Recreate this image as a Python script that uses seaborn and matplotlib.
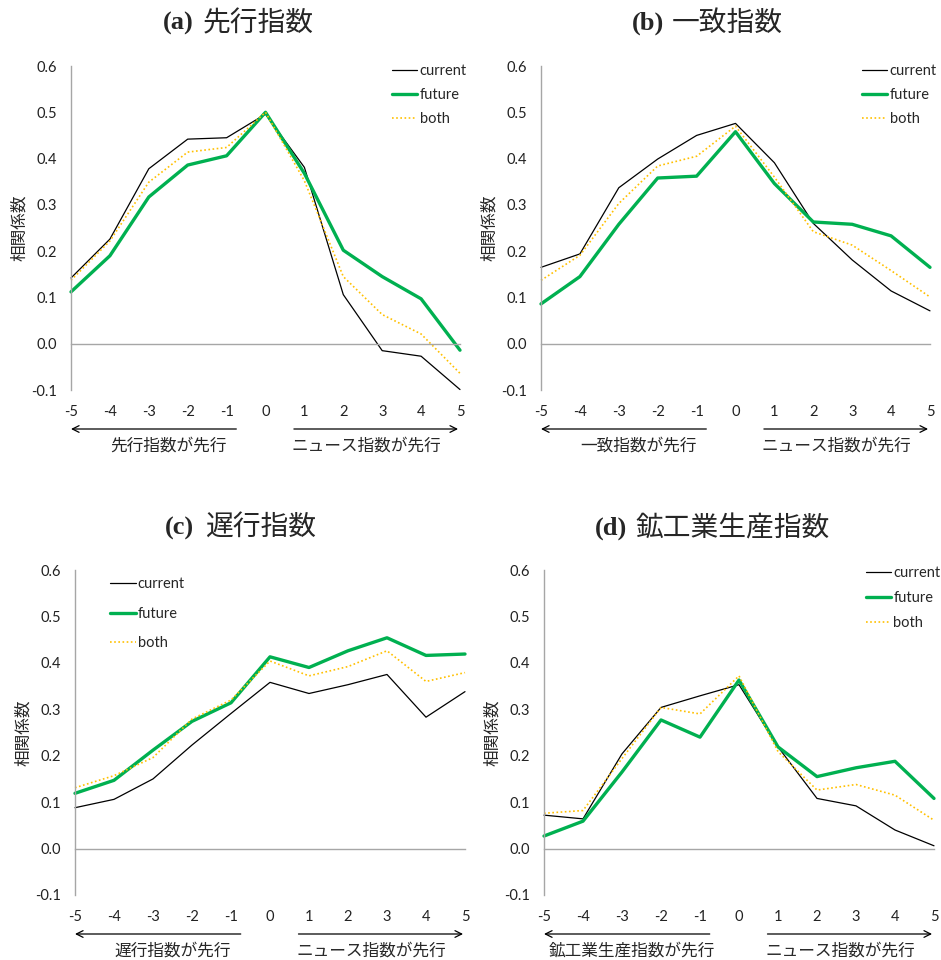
import numpy as np
import pandas as pd
import matplotlib
matplotlib.use("Agg")
import matplotlib.pyplot as plt
import matplotlib.transforms as mtransforms
import seaborn as sns

lags = [-5, -4, -3, -2, -1, 0, 1, 2, 3, 4, 5]
yticks = [-0.1, 0.0, 0.1, 0.2, 0.3, 0.4, 0.5, 0.6]

titles = ["先行指数", "一致指数", "遅行指数", "鉱工業生産指数"]
letters = ["(a)", "(b)", "(c)", "(d)"]
left_notes = ["先行指数が先行", "一致指数が先行", "遅行指数が先行", "鉱工業生産指数が先行"]
right_note = "ニュース指数が先行"
ylabel = "相関係数"

a_current = [0.142, 0.226, 0.378, 0.442, 0.445, 0.496, 0.381, 0.106, -0.015, -0.027, -0.099]
a_future = [0.112, 0.190, 0.317, 0.386, 0.406, 0.500, 0.368, 0.202, 0.145, 0.097, -0.014]
a_both = [0.137, 0.222, 0.349, 0.414, 0.424, 0.500, 0.352, 0.145, 0.063, 0.021, -0.064]

b_current = [0.165, 0.194, 0.337, 0.399, 0.450, 0.476, 0.391, 0.260, 0.181, 0.114, 0.071]
b_future = [0.086, 0.145, 0.258, 0.358, 0.362, 0.458, 0.346, 0.263, 0.258, 0.233, 0.165]
b_both = [0.137, 0.191, 0.303, 0.384, 0.405, 0.470, 0.360, 0.242, 0.213, 0.158, 0.101]

c_current = [0.088, 0.106, 0.150, 0.223, 0.291, 0.358, 0.334, 0.353, 0.375, 0.283, 0.338]
c_future = [0.119, 0.147, 0.212, 0.274, 0.314, 0.413, 0.390, 0.426, 0.454, 0.416, 0.419]
c_both = [0.131, 0.157, 0.196, 0.279, 0.320, 0.404, 0.372, 0.392, 0.426, 0.360, 0.379]

d_current = [0.072, 0.064, 0.204, 0.304, 0.329, 0.353, 0.219, 0.108, 0.092, 0.040, 0.006]
d_future = [0.027, 0.059, 0.165, 0.277, 0.240, 0.363, 0.219, 0.155, 0.174, 0.188, 0.108]
d_both = [0.076, 0.082, 0.194, 0.304, 0.290, 0.372, 0.209, 0.126, 0.138, 0.115, 0.061]

series_names = ["current", "future", "both"]
panels = [
    (a_current, a_future, a_both),
    (b_current, b_future, b_both),
    (c_current, c_future, c_both),
    (d_current, d_future, d_both),
]

sns.set_theme(style="white")
plt.rcParams["font.family"] = ["Lato", "Noto Sans CJK JP", "DejaVu Sans"]
plt.rcParams["axes.unicode_minus"] = False

W, H = 941, 960
fig = plt.figure(figsize=(W / 100, H / 100), dpi=100)

# axes boxes in pixels: (left, right, top, bottom)
boxes = [(71, 460, 66, 390), (541, 930, 66, 390), (75, 465, 570, 895), (544, 934, 570, 895)]
legend_pos = [(0.81, 1.025), (0.81, 1.025), (0.075, 0.995), (0.81, 1.03)]
legend_spacing = [0.7, 0.7, 1.05, 0.75]
title_left = [163, 632, 165, 595]
title_y = [23, 23, 528, 528]
ylabel_right = [28, 498, 32, 501]

styles = {
    "current": dict(color="black", lw=0.9, ls="-"),
    "future": dict(color="#00B050", lw=2.4, ls="-"),
    "both": dict(color="#FFC000", lw=1.2, ls=(0, (1, 1.5))),
}
gray = "#A6A6A6"

for i, (vals, box) in enumerate(zip(panels, boxes)):
    l, r, t, b = box
    ax = fig.add_axes([l / W, 1 - b / H, (r - l) / W, (b - t) / H])
    df = pd.DataFrame({
        "lag": lags * 3,
        "value": list(vals[0]) + list(vals[1]) + list(vals[2]),
        "series": sum([[s] * len(lags) for s in series_names], []),
    })
    for s in series_names:
        sub = df[df["series"] == s]
        st = styles[s]
        sns.lineplot(data=sub, x="lag", y="value", ax=ax, color=st["color"],
                     linewidth=st["lw"], linestyle=st["ls"], label=s)
    ax.set_xlim(-5, 5)
    ax.set_ylim(-0.1, 0.6)
    ax.set_yticks(yticks)
    ax.set_yticklabels([f"{v:.1f}" for v in yticks])
    ax.set_xticks(lags)
    ax.set_xlabel("")
    ax.set_ylabel(ylabel, fontsize=12, family=["Noto Sans CJK JP"], labelpad=0)
    ax.yaxis.set_label_coords((ylabel_right[i] - l) / (r - l), 0.5)
    for sp in ["top", "right"]:
        ax.spines[sp].set_visible(False)
    ax.spines["left"].set_color(gray)
    ax.spines["left"].set_linewidth(1.0)
    ax.spines["bottom"].set_position(("data", 0))
    ax.spines["bottom"].set_color(gray)
    ax.spines["bottom"].set_linewidth(1.0)
    ax.tick_params(axis="y", direction="out", length=5, color=gray, width=1,
                   labelsize=10.5, labelcolor="#222222", pad=5)
    ax.tick_params(axis="x", direction="out", length=5, color=gray, width=1,
                   labelbottom=False)
    for ln in ax.lines:
        ln.set_clip_on(False)

    sec = ax.secondary_xaxis("bottom")
    sec.set_xticks(lags)
    sec.set_xticklabels([str(v) for v in lags])
    sec.tick_params(length=0, labelsize=10.5, labelcolor="#222222", pad=11)
    for sp in sec.spines.values():
        sp.set_visible(False)

    trans = mtransforms.blended_transform_factory(ax.transData, ax.transAxes)
    ah = 39 / (b - t)
    th = 56 / (b - t)
    ax.annotate("", xy=(-5, -ah), xytext=(-0.75, -ah), xycoords=trans, textcoords=trans,
                arrowprops=dict(arrowstyle="->", color="black", lw=0.9, shrinkA=0, shrinkB=0))
    ax.annotate("", xy=(4.95, -ah), xytext=(0.73, -ah), xycoords=trans, textcoords=trans,
                arrowprops=dict(arrowstyle="->", color="black", lw=0.9, shrinkA=0, shrinkB=0))
    ax.text(-2.5 if i != 3 else -2.75, -th, left_notes[i], transform=trans, ha="center", va="center",
            fontsize=12, family=["Noto Sans CJK JP"])
    ax.text(2.6, -th, right_note, transform=trans, ha="center", va="center",
            fontsize=12, family=["Noto Sans CJK JP"])

    ax.legend(loc="upper left", bbox_to_anchor=legend_pos[i], frameon=False,
              fontsize=10.5, handlelength=1.75, handletextpad=0.15,
              labelspacing=legend_spacing[i], borderaxespad=0)

    fig.text(title_left[i] / W, 1 - title_y[i] / H, letters[i], ha="left", va="center",
             fontsize=19, fontweight="bold", family=["Liberation Serif"])
    fig.text((title_left[i] + 40) / W, 1 - title_y[i] / H, titles[i], ha="left", va="center",
             fontsize=20, family=["Noto Sans CJK JP"])

fig.savefig("out.png", dpi=100)
